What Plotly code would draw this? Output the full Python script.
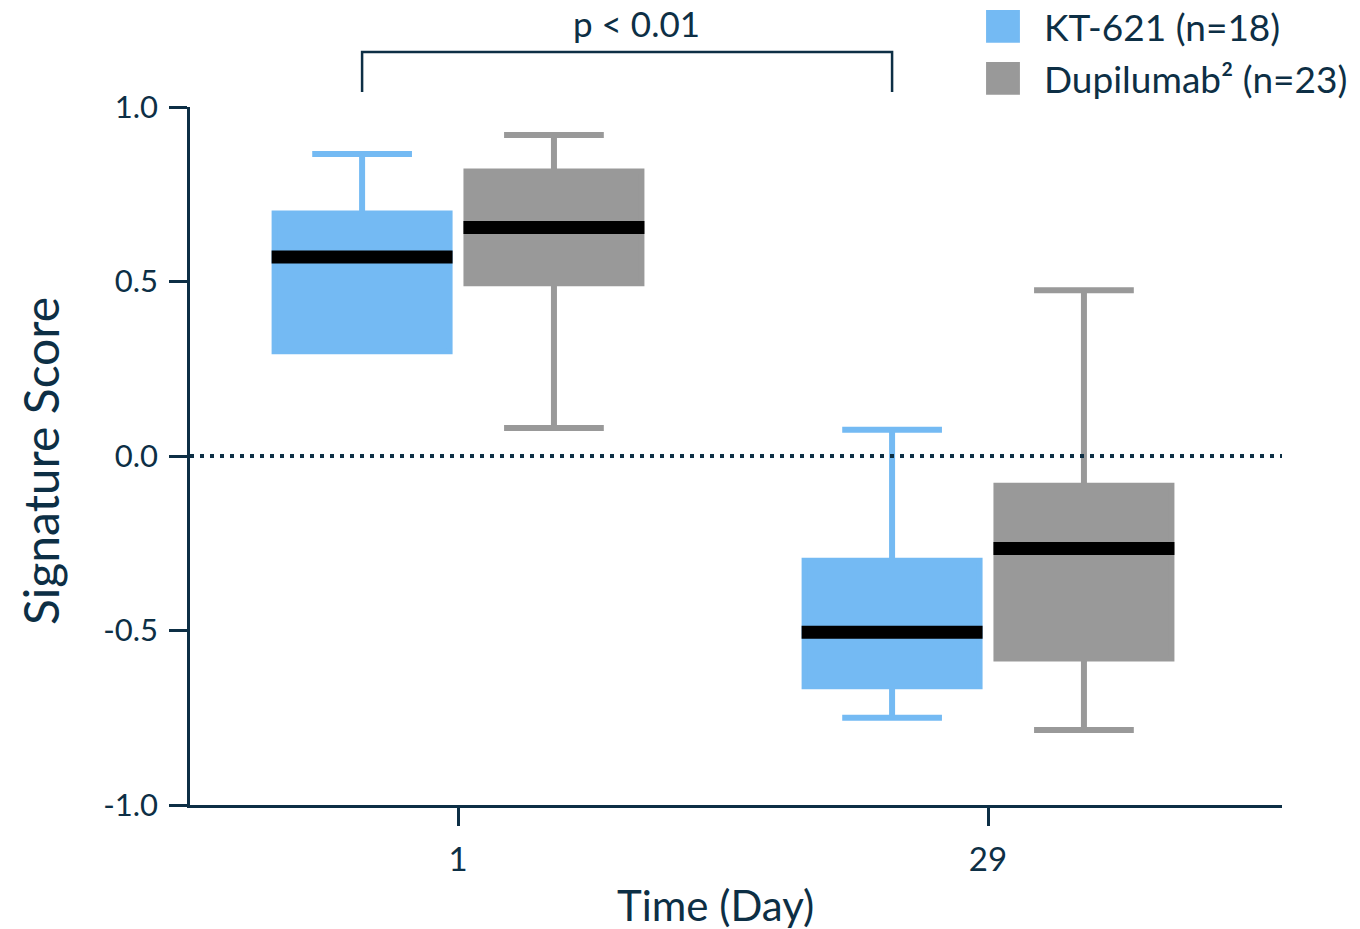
import plotly.graph_objects as go

# ---- data ----
days = ["1", "29"]
series_names = ["KT-621 (n=18)", "Dupilumab² (n=23)"]
kt_lower = [0.30, -0.75]
kt_q1 = [0.30, -0.66]
kt_median = [0.57, -0.505]
kt_q3 = [0.695, -0.30]
kt_upper = [0.865, 0.075]
dup_lower = [0.08, -0.785]
dup_q1 = [0.495, -0.58]
dup_median = [0.655, -0.265]
dup_q3 = [0.815, -0.085]
dup_upper = [0.92, 0.475]
yticks = [-1.0, -0.5, 0.0, 0.5, 1.0]
ytick_labels = ["-1.0", "-0.5", "0.0", "0.5", "1.0"]
p_text = "p < 0.01"
x_title = "Time (Day)"
y_title = "Signature Score"

# ---- styles ----
NAVY = "#0d2f45"
BLUE = "#74BAF3"
GRAY = "#999999"
FONT = "Lato"
BOXGAP = 0.276
BOXGROUPGAP = 0.088
BOX_LW = 6
MEDIAN_PX = 13          # thickness of the median bar in px
Y_RANGE = [-1, 1]
PLOT_H_PX = 698         # plot area height in px

fig = go.Figure()

groups = [
    ("a", BLUE, kt_lower, kt_q1, kt_median, kt_q3, kt_upper),
    ("b", GRAY, dup_lower, dup_q1, dup_median, dup_q3, dup_upper),
]
for og, col, lo, q1, med, q3, up in groups:
    fig.add_trace(go.Box(
        x=days, q1=q1, median=med, q3=q3, lowerfence=lo, upperfence=up,
        offsetgroup=og, fillcolor=col, line=dict(color=col, width=BOX_LW),
        whiskerwidth=0.57, boxpoints=False, showlegend=False, hoverinfo="skip",
    ))

# thick black median bars drawn on top (thickness is a pixel style converted to axis units)
half = (MEDIAN_PX - BOX_LW) / 2 * (Y_RANGE[1] - Y_RANGE[0]) / PLOT_H_PX
for og, col, lo, q1, med, q3, up in groups:
    fig.add_trace(go.Box(
        x=days, q1=[m - half for m in med], median=med, q3=[m + half for m in med],
        lowerfence=[m - half for m in med], upperfence=[m + half for m in med],
        offsetgroup=og, fillcolor="black", line=dict(color="black", width=BOX_LW),
        whiskerwidth=0, boxpoints=False, showlegend=False, hoverinfo="skip",
    ))

# zero reference line
fig.add_shape(type="line", xref="paper", yref="y", x0=0, x1=1, y0=0, y1=0,
              line=dict(color=NAVY, width=4, dash="4px,6px"))

# significance bracket between the KT-621 boxes (day 1 vs day 29)
off = -0.25 * (1 - BOXGAP)
bx0, bx1 = 0 + off, 1 + off
ytop, ybot = 1.0788, 1.0215
fig.add_shape(type="path", xref="x", yref="paper",
              path=f"M {bx0},{ybot} L {bx0},{ytop} L {bx1},{ytop} L {bx1},{ybot}",
              line=dict(color=NAVY, width=2.5))
fig.add_annotation(x=0.5 + off + 0.017, y=1.121, xref="x", yref="paper", text=p_text,
                   showarrow=False, font=dict(family=FONT, size=35, color=NAVY),
                   xanchor="center", yanchor="middle")

# custom legend
leg = [(series_names[0], BLUE, 1.1155), (series_names[1], GRAY, 1.041)]
for name, col, yc in leg:
    fig.add_shape(type="rect", xref="paper", yref="paper",
                  x0=0.729, x1=0.760, y0=yc - 0.0235, y1=yc + 0.0235,
                  fillcolor=col, line=dict(width=0))
    fig.add_annotation(x=0.780, y=yc, xref="paper", yref="paper", text=name,
                       showarrow=False, xanchor="left", yanchor="middle",
                       font=dict(family=FONT, size=37, color=NAVY))

# axis titles
fig.add_annotation(x=0.4808, y=-0.1433, xref="paper", yref="paper", text=x_title,
                   showarrow=False, xanchor="center", yanchor="middle",
                   font=dict(family=FONT, size=42, color=NAVY))
fig.add_annotation(x=-0.1374, y=0.4928, xref="paper", yref="paper", text=y_title,
                   showarrow=False, xanchor="center", yanchor="middle", textangle=-90,
                   font=dict(family=FONT, size=48, color=NAVY))

fig.update_layout(
    width=1360, height=929,
    margin=dict(l=190, r=78, t=107, b=124),
    plot_bgcolor="white", paper_bgcolor="white",
    boxmode="group", boxgap=BOXGAP, boxgroupgap=BOXGROUPGAP,
    font=dict(family=FONT, color=NAVY),
    showlegend=False,
)
fig.update_xaxes(
    type="category", range=[-0.5057, 1.5547],
    showline=True, linecolor=NAVY, linewidth=2.5,
    ticks="outside", ticklen=18, tickwidth=2.5, tickcolor=NAVY,
    tickfont=dict(family=FONT, size=33, color=NAVY), ticklabelstandoff=6,
    showgrid=False, zeroline=False,
)
fig.update_yaxes(
    range=Y_RANGE, tickvals=yticks, ticktext=ytick_labels,
    showline=True, linecolor=NAVY, linewidth=2.5,
    ticks="outside", ticklen=18, tickwidth=2.5, tickcolor=NAVY,
    tickfont=dict(family=FONT, size=31, color=NAVY), ticklabelstandoff=5,
    showgrid=False, zeroline=False,
)

fig.write_html("out.html", config={"displayModeBar": False},
               post_script="document.body.style.margin='0px';")
